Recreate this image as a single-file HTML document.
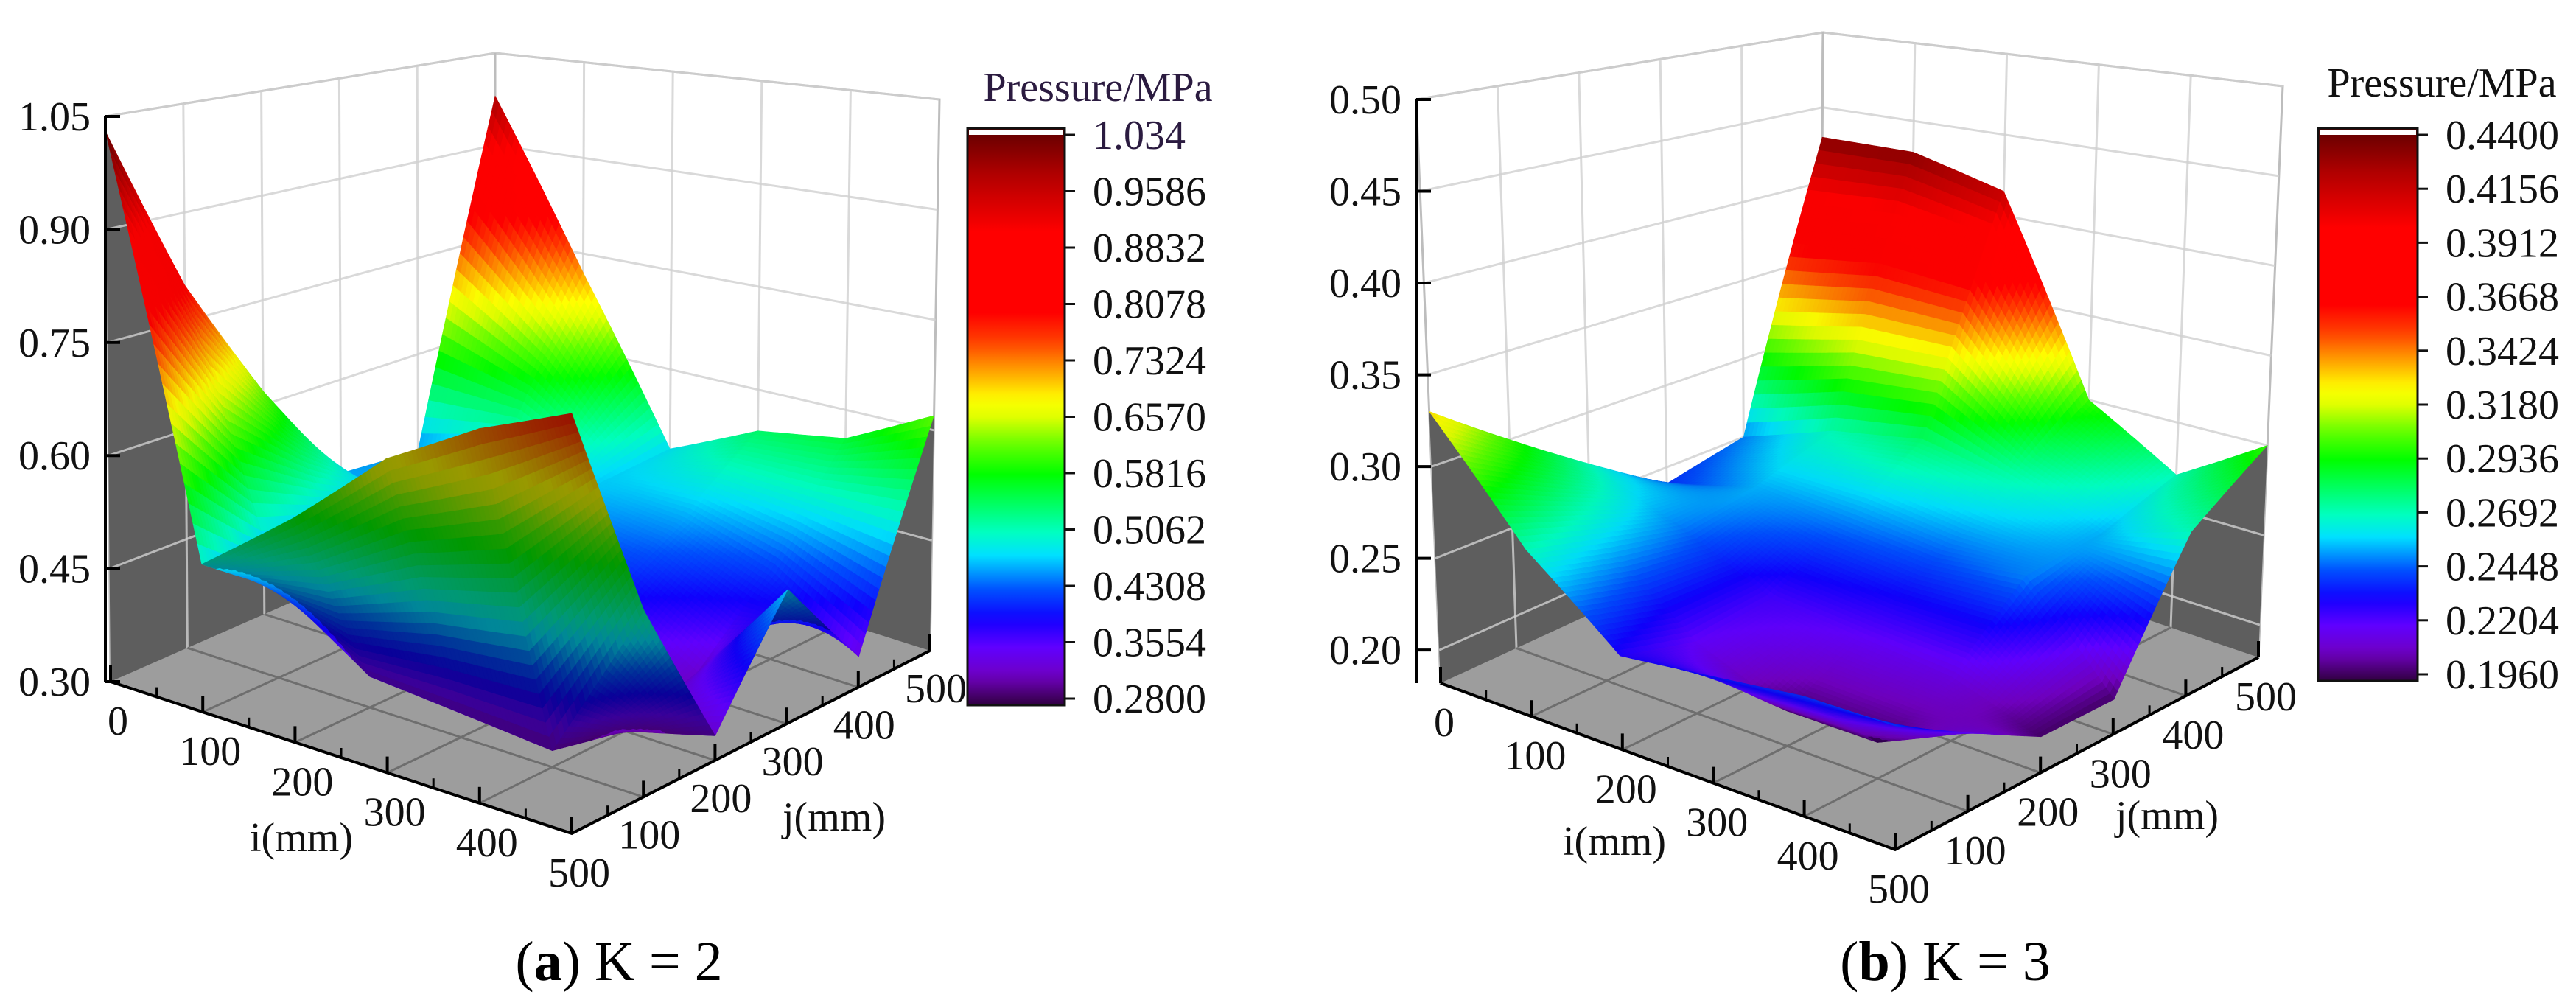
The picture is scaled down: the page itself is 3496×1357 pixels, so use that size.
<!DOCTYPE html>
<html><head><meta charset="utf-8"><style>
html,body{margin:0;padding:0;background:#fff;}
svg{display:block;}
svg text{font-family:"Liberation Serif","DejaVu Serif",serif;}
</style></head><body>
<svg id="chart" xmlns="http://www.w3.org/2000/svg" width="3496" height="1357" viewBox="0 0 3496 1357" font-family="Liberation Serif, serif" style="background:#fff"></svg>
<script>
// ---- data ----
const iGrid=[0,100,200,300,400,500];
const jGrid=[0,100,200,300,400,500];
// rows: i index, cols: j index
const pressureK2=[
[1.03,0.80,0.62,0.46,0.45,0.98],
[0.49,0.42,0.43,0.45,0.50,0.72],
[0.58,0.34,0.38,0.44,0.47,0.48],
[0.68,0.33,0.34,0.40,0.46,0.54],
[0.74,0.32,0.30,0.33,0.42,0.56],
[0.78,0.52,0.33,0.47,0.34,0.62]];
const pressureK3=[
[0.33,0.30,0.27,0.24,0.25,0.43],
[0.27,0.26,0.25,0.255,0.27,0.43],
[0.23,0.22,0.225,0.25,0.28,0.415],
[0.235,0.20,0.22,0.245,0.27,0.30],
[0.24,0.20,0.215,0.25,0.255,0.27],
[0.24,0.22,0.20,0.20,0.27,0.30]];
const zTicksK2=[0.30,0.45,0.60,0.75,0.90,1.05];
const zTickLabelsK2=["0.30","0.45","0.60","0.75","0.90","1.05"];
const zTicksK3=[0.20,0.25,0.30,0.35,0.40,0.45,0.50];
const zTickLabelsK3=["0.20","0.25","0.30","0.35","0.40","0.45","0.50"];
const cbarLabelsK2=["1.034","0.9586","0.8832","0.8078","0.7324","0.6570","0.5816","0.5062","0.4308","0.3554","0.2800"];
const cbarLabelsK3=["0.4400","0.4156","0.3912","0.3668","0.3424","0.3180","0.2936","0.2692","0.2448","0.2204","0.1960"];
const ijTicks=[0,100,200,300,400,500];
const ijTickLabels=["0","100","200","300","400","500"];

const NS='http://www.w3.org/2000/svg';
const svg=document.getElementById('chart');
const FONT='Liberation Serif, DejaVu Serif, serif';
function mk(tag,attrs,parent){const e=document.createElementNS(NS,tag);for(const k in attrs)e.setAttribute(k,attrs[k]);(parent||svg).appendChild(e);return e;}

const stops=[[0,[48,0,64]],[0.05,[112,0,192]],[0.1,[96,0,255]],[0.15,[16,0,255]],[0.2,[0,80,255]],[0.26,[0,224,255]],[0.3,[0,255,192]],[0.4,[0,255,0]],[0.45,[96,255,0]],[0.5,[224,255,0]],[0.53,[255,255,0]],[0.58,[255,160,0]],[0.63,[255,64,0]],[0.68,[255,0,0]],[0.82,[255,0,0]],[0.92,[176,0,0]],[1,[96,0,0]]];
function cmap(f){f=Math.max(0,Math.min(1,f));for(let k=1;k<stops.length;k++){if(f<=stops[k][0]){const a=stops[k-1],b=stops[k];const t=(f-a[0])/(b[0]-a[0]);return [0,1,2].map(c=>a[1][c]+(b[1][c]-a[1][c])*t);}}return stops[stops.length-1][1];}
function rgb(c,s){return 'rgb('+c.map(v=>Math.round(Math.max(0,Math.min(255,v*s)))).join(',')+')';}

function drawPanel(cfg,data,zTicks,zLabels,cLabels){
  const g=mk('g',{});
  
  
  const {L,F,R,B,Lt,Ft,Rt,Bt,zmin,zmax}=cfg;
  function proj(i,j,z){const u=i/500,v=j/500,w=(z-zmin)/(zmax-zmin);
    const a=(1-u)*(1-v),b=u*(1-v),c=u*v,d=(1-u)*v;
    const bx=L[0]*a+F[0]*b+R[0]*c+B[0]*d, by=L[1]*a+F[1]*b+R[1]*c+B[1]*d;
    const tx=Lt[0]*a+Ft[0]*b+Rt[0]*c+Bt[0]*d, ty=Lt[1]*a+Ft[1]*b+Rt[1]*c+Bt[1]*d;
    return [bx+(tx-bx)*w, by+(ty-by)*w];}
  function pts(arr){return arr.map(p=>p[0].toFixed(1)+','+p[1].toFixed(1)).join(' ');}
  function zAt(i,j){const n=iGrid.length-1;let ci=Math.min(n-1,Math.floor(i/100)),cj=Math.min(n-1,Math.floor(j/100));
    const fu=(i-iGrid[ci])/100,fv=(j-jGrid[cj])/100;
    return data[ci][cj]*(1-fu)*(1-fv)+data[ci+1][cj]*fu*(1-fv)+data[ci+1][cj+1]*fu*fv+data[ci][cj+1]*(1-fu)*fv;}
  const lw=mk('polygon',{points:pts([proj(0,0,zmin),proj(0,500,zmin),proj(0,500,zmax),proj(0,0,zmax)]),fill:'#fff',stroke:'#bdbdbd','stroke-width':3},g);
  
  
  const rw=mk('polygon',{points:pts([proj(0,500,zmin),proj(500,500,zmin),proj(500,500,zmax),proj(0,500,zmax)]),fill:'#fff',stroke:'#bdbdbd','stroke-width':3},g);
  
  
  const fl=mk('polygon',{points:pts([proj(0,0,zmin),proj(500,0,zmin),proj(500,500,zmin),proj(0,500,zmin)]),fill:'#9d9d9d'},g);
  
  
  const sl=[];for(let j=0;j<=500;j+=10)sl.push(proj(0,j,Math.max(zmin,Math.min(zmax,zAt(0,j)))));
  sl.push(proj(0,500,zmin));sl.push(proj(0,0,zmin));
  const s1=mk('polygon',{points:pts(sl),fill:'#5e5e5e'},g);
  
  
  const sr=[];for(let i=0;i<=500;i+=10)sr.push(proj(i,500,Math.max(zmin,Math.min(zmax,zAt(i,500)))));
  sr.push(proj(500,500,zmin));sr.push(proj(0,500,zmin));
  const s2=mk('polygon',{points:pts(sr),fill:'#5e5e5e'},g);
  
  
  for(const t of [100,200,300,400]){
    let a=proj(0,t,zmin),b=proj(0,t,zmax);
    const l1=mk('line',{x1:a[0],y1:a[1],x2:b[0],y2:b[1],stroke:'#cfcfcf','stroke-width':3,'stroke-opacity':0.8},g);
    
    
    a=proj(t,500,zmin);b=proj(t,500,zmax);
    const l2=mk('line',{x1:a[0],y1:a[1],x2:b[0],y2:b[1],stroke:'#cfcfcf','stroke-width':3,'stroke-opacity':0.8},g);
    
    
    a=proj(t,0,zmin);b=proj(t,500,zmin);
    const l3=mk('line',{x1:a[0],y1:a[1],x2:b[0],y2:b[1],stroke:'#6e6e6e','stroke-width':3},g);
    
    
    a=proj(0,t,zmin);b=proj(500,t,zmin);
    const l4=mk('line',{x1:a[0],y1:a[1],x2:b[0],y2:b[1],stroke:'#6e6e6e','stroke-width':3},g);
    
    
  }
  for(const z of zTicks){ if(z<=zmin+1e-6)continue;
    const a=proj(0,0,z),b=proj(0,500,z),c=proj(500,500,z);
    const l=mk('polyline',{points:pts([a,b,c]),fill:'none',stroke:'#cfcfcf','stroke-width':3,'stroke-opacity':0.8},g);
    
    
  }
  {const a=proj(0,500,zmin),b=proj(0,500,zmax);
   const l=mk('line',{x1:a[0],y1:a[1],x2:b[0],y2:b[1],stroke:'#bdbdbd','stroke-width':3},g);
   
   }
  {const a=proj(0,0,zmin),b=proj(500,0,zmin),c=proj(500,500,zmin);
   const ax=mk('polyline',{points:pts([a,b,c]),fill:'none',stroke:'#000','stroke-width':4},g);
   
   }
  const N=22,cells=[];
  for(let ci=0;ci<iGrid.length-1;ci++)for(let cj=0;cj<jGrid.length-1;cj++)
    for(let a=0;a<N;a++)for(let b=0;b<N;b++){
      const i0=iGrid[ci]+100*a/N,i1=iGrid[ci]+100*(a+1)/N,j0=jGrid[cj]+100*b/N,j1=jGrid[cj]+100*(b+1)/N;
      cells.push([i0,i1,j0,j1,((i0+i1)-(j0+j1))/2]);}
  cells.sort((p,q)=>p[4]-q[4]);
  const sg=mk('g',{},g);
  
  
  const span=zmax-zmin;
  for(const c of cells){
    const [i0,i1,j0,j1]=c;
    const z00=zAt(i0,j0),z10=zAt(i1,j0),z11=zAt(i1,j1),z01=zAt(i0,j1);
    const zm=(z00+z10+z11+z01)/4;
    const du=0.5*((z10-z00)+(z11-z01))/span/((i1-i0)/500);
    const dv=0.5*((z01-z00)+(z11-z10))/span/((j1-j0)/500);
    const n=[-du,-dv,1],V=[1,-1,0.9];
    const d=(n[0]*V[0]+n[1]*V[1]+n[2]*V[2])/Math.hypot(...n)/Math.hypot(...V);
    const s=d<0?0.6:(0.92+0.08*d);
    const col=rgb(cmap((zm-cfg.cmin)/(cfg.cmax-cfg.cmin)),s);
    const p=mk('polygon',{points:pts([proj(i0,j0,z00),proj(i1,j0,z10),proj(i1,j1,z11),proj(i0,j1,z01)]),fill:col,stroke:col,'stroke-width':0.6,'stroke-linejoin':'round'},sg);
    
    
  }
  const zb=proj(0,0,zmin),zt=proj(0,0,zmax);
  const zx=cfg.zAxisX;
  const za=mk('line',{x1:zx,y1:zb[1],x2:zx,y2:zt[1],stroke:'#000','stroke-width':4},g);
  
  
  zTicks.forEach((z,k)=>{const p=proj(0,0,z);
    const t=mk('line',{x1:zx,y1:p[1],x2:zx+20,y2:p[1],stroke:'#000','stroke-width':4},g);
    
    
    const tx=mk('text',{x:zx-20,y:p[1]+19,'font-size':56,'font-family':FONT,'text-anchor':'end',fill:'#111'},g);
    tx.textContent=zLabels[k];
    
    });
  ijTicks.forEach((v,k)=>{
    let p=proj(v,0,zmin);
    const t=mk('line',{x1:p[0],y1:p[1],x2:p[0],y2:p[1]-22,stroke:'#000','stroke-width':4},g);
    
    
    if(v<500){const m=proj(v+50,0,zmin);
      const t2=mk('line',{x1:m[0],y1:m[1],x2:m[0],y2:m[1]-13,stroke:'#000','stroke-width':3},g);
      
      }
    const tx=mk('text',{x:p[0]+cfg.iOff[0],y:p[1]+cfg.iOff[1],'font-size':56,'font-family':FONT,'text-anchor':'middle',fill:'#111'},g);
    tx.textContent=ijTickLabels[k];
    
    
    if(v>0){p=proj(500,v,zmin);
      const tj=mk('line',{x1:p[0],y1:p[1],x2:p[0],y2:p[1]-22,stroke:'#000','stroke-width':4},g);
      
      
      const txj=mk('text',{x:p[0]+cfg.jOff[0],y:p[1]+cfg.jOff[1],'font-size':56,'font-family':FONT,'text-anchor':'middle',fill:'#111'},g);
      txj.textContent=ijTickLabels[k];
      
      }
    if(v<500){const m=proj(500,v+50,zmin);
      const t3=mk('line',{x1:m[0],y1:m[1],x2:m[0],y2:m[1]-13,stroke:'#000','stroke-width':3},g);
      
      }
  });
  const il=mk('text',{x:cfg.iTitle[0],y:cfg.iTitle[1],'font-size':56,'font-family':FONT,'text-anchor':'middle',fill:'#111'},g);
  il.textContent='i(mm)';
  
  
  const jl=mk('text',{x:cfg.jTitle[0],y:cfg.jTitle[1],'font-size':56,'font-family':FONT,'text-anchor':'middle',fill:'#111'},g);
  jl.textContent='j(mm)';
  
  
  const cb=cfg.cbar;
  const gid='grad-'+cfg.name;
  const defs=mk('defs',{},g);
  const lg=mk('linearGradient',{id:gid,x1:0,y1:1,x2:0,y2:0},defs);
  for(let k=0;k<=50;k++){mk('stop',{offset:(k/50),'stop-color':rgb(cmap(k/50),1)},lg);}
  const bar=mk('rect',{x:cb.x,y:cb.y,width:cb.w,height:cb.h,fill:'url(#'+gid+')',stroke:'#111','stroke-width':3},g);
  
  
  const ws=mk('rect',{x:cb.x+2,y:cb.y+2,width:cb.w-4,height:7,fill:'#fff'},g);
  
  
  cLabels.forEach((s,k)=>{const y=cb.y+9+k*(cb.h-18)/(cLabels.length-1);
    const t=mk('line',{x1:cb.x+cb.w,y1:y,x2:cb.x+cb.w+14,y2:y,stroke:'#111','stroke-width':3},g);
    
    
    const tx=mk('text',{x:cb.x+cb.w+38,y:y+19,'font-size':56,'font-family':FONT,fill:k===0?cfg.titleColor:'#111'},g);
    tx.textContent=s;
    
    });
  const ct=mk('text',{x:cfg.cTitle[0],y:cfg.cTitle[1],'font-size':56,'font-family':FONT,'text-anchor':'middle',fill:cfg.titleColor},g);
  ct.textContent='Pressure/MPa';
  
  
  const cap=mk('text',{x:cfg.caption[0],y:cfg.caption[1],'font-size':76,'font-family':FONT,'text-anchor':'middle',fill:'#000'},g);
  
  
  const t1=mk('tspan',{},cap);t1.textContent='(';
  const t2=mk('tspan',{'font-weight':'bold'},cap);t2.textContent=cfg.letter;
  const t3=mk('tspan',{},cap);t3.textContent=') K = '+cfg.k;
}

drawPanel({name:'panel-k2',L:[150,925],F:[776,1131],R:[1262,883],B:[672,696],Lt:[143,158],Ft:[776,240],Rt:[1275,135],Bt:[672,72],
  zmin:0.30,zmax:1.05,cmin:0.28,cmax:1.034,zAxisX:143,iOff:[10,72],jOff:[8,70],iTitle:[409,1155],jTitle:[1132,1127],
  cbar:{x:1313,y:174,w:132,h:783},cTitle:[1490,137],titleColor:'#2b1b40',caption:[840,1330],letter:'a',k:'2'},
  pressureK2,zTicksK2,zTickLabelsK2,cbarLabelsK2);
drawPanel({name:'panel-k3',L:[1955,927],F:[2572,1153],R:[3065,892],B:[2470,690],Lt:[1922,135],Ft:[2572,232],Rt:[3098,117],Bt:[2474,44],
  zmin:0.182,zmax:0.50,cmin:0.196,cmax:0.44,zAxisX:1922,iOff:[5,72],jOff:[10,72],iTitle:[2191,1160],jTitle:[2941,1125],
  cbar:{x:3146,y:174,w:135,h:750},cTitle:[3314,131],titleColor:'#111',caption:[2640,1330],letter:'b',k:'3'},
  pressureK3,zTicksK3,zTickLabelsK3,cbarLabelsK3);
</script>
</body></html>
